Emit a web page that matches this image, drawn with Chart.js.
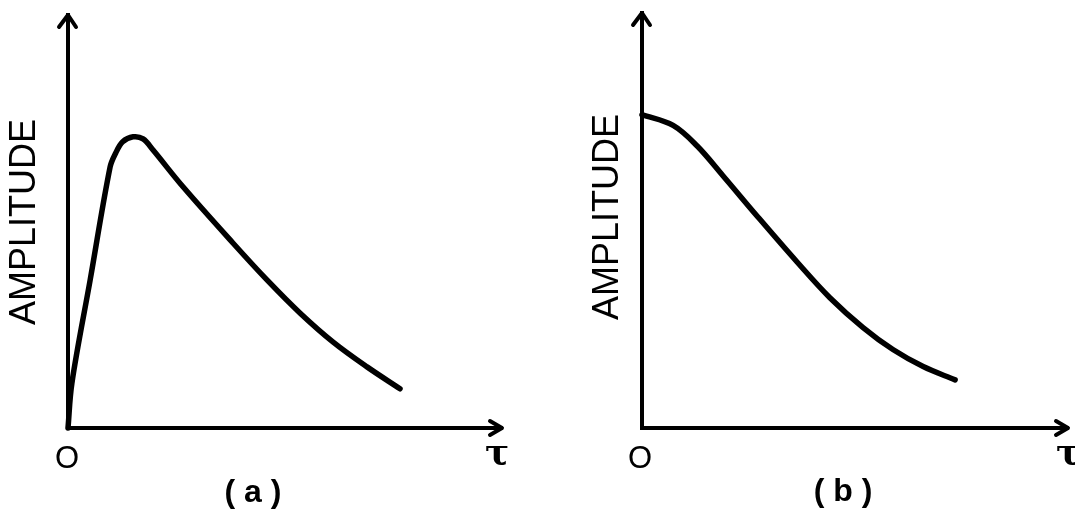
<!DOCTYPE html>
<html>
<head>
<meta charset="utf-8">
<script src="https://cdn.jsdelivr.net/npm/chart.js@4/dist/chart.umd.min.js"></script>
<style>
  body { margin: 0; background: #fff; }
  canvas { position: absolute; top: 0; }
</style>
</head>
<body>
<canvas id="grafico-a" width="537" height="512" style="left:0"></canvas>
<canvas id="grafico-b" width="538" height="512" style="left:537px"></canvas>
<script>
// Curva (a): sube casi vertical desde el origen, pico y luego decae
const tauA = [0, 0.09, 0.51, 0.97, 1.10, 1.26, 1.50, 1.73, 1.96, 2.65, 3.80, 4.59, 5.35, 6.11, 6.89, 7.65];
const ampA = [0, 1.09, 3.58, 6.32, 6.66, 6.93, 7.05, 7.00, 6.73, 5.84, 4.48, 3.58, 2.78, 2.08, 1.48, 0.95];

// Curva (b): empieza en su máximo y cae suavemente
const tauB = [0, 0.73, 1.29, 1.90, 2.70, 3.64, 4.41, 5.19, 5.89, 6.60, 7.35];
const ampB = [7.55, 7.29, 6.80, 6.08, 5.11, 4.00, 3.14, 2.42, 1.89, 1.48, 1.16];

const tituloEje = 'AMPLITUDE';
const etiquetaOrigen = 'O';
const etiquetaTau = 'τ';

// Dibuja las flechas de los ejes y los textos de cada panel
const flechasYTextos = {
    id: 'flechasYTextos',
    afterDraw(chart, args, opts) {
        const { ctx, chartArea: a } = chart;
        ctx.save();
        ctx.strokeStyle = '#000';
        ctx.lineWidth = 4;
        ctx.lineCap = 'round';
        ctx.lineJoin = 'round';

        // flecha del eje vertical
        ctx.beginPath();
        ctx.moveTo(a.left - 9, a.top + 12);
        ctx.lineTo(a.left, a.top);
        ctx.lineTo(a.left + 8, a.top + 12);
        ctx.stroke();

        // flecha del eje horizontal
        ctx.beginPath();
        ctx.moveTo(a.right - 12, a.bottom - 7);
        ctx.lineTo(a.right, a.bottom);
        ctx.lineTo(a.right - 12, a.bottom + 7);
        ctx.stroke();

        ctx.fillStyle = '#000';
        ctx.textAlign = 'center';
        ctx.textBaseline = 'middle';

        ctx.font = '31px "Liberation Sans"';
        ctx.fillText(etiquetaOrigen, opts.origen[0], opts.origen[1]);

        ctx.font = 'bold 36px "DejaVu Serif"';
        ctx.fillText(etiquetaTau, opts.tau[0], opts.tau[1]);

        ctx.font = 'bold 32px "Liberation Sans"';
        ctx.fillText(opts.letra, opts.letraPos[0], opts.letraPos[1]);

        ctx.translate(opts.titulo[0], opts.titulo[1]);
        ctx.rotate(-Math.PI / 2);
        ctx.font = '36px "Liberation Sans"';
        ctx.fillText(tituloEje, 0, 0);
        ctx.restore();
    }
};

function crearGrafico(idCanvas, xs, ys, padding, textos) {
    const ctx = document.getElementById(idCanvas).getContext('2d');
    return new Chart(ctx, {
        type: 'scatter',
        data: {
            datasets: [{
                data: xs.map((x, i) => ({ x: x, y: ys[i] })),
                showLine: true,
                borderColor: '#000',
                borderWidth: 5.5,
                borderCapStyle: 'round',
                pointRadius: 0,
                tension: 0.35,
                clip: false
            }]
        },
        options: {
            responsive: false,
            animation: false,
            layout: { padding: padding },
            plugins: {
                legend: { display: false },
                tooltip: { enabled: false },
                flechasYTextos: textos
            },
            scales: {
                x: {
                    min: 0, max: 10,
                    ticks: { display: false },
                    grid: { display: false, drawTicks: false },
                    border: { display: true, color: '#000', width: 4 }
                },
                y: {
                    min: 0, max: 10,
                    ticks: { display: false },
                    grid: { display: false, drawTicks: false },
                    border: { display: true, color: '#000', width: 4 }
                }
            }
        },
        plugins: [flechasYTextos]
    });
}

crearGrafico('grafico-a', tauA, ampA,
    { left: 68, right: 35, top: 15, bottom: 84 },
    { origen: [67, 459], tau: [497, 455], letra: '( a )', letraPos: [253, 493], titulo: [25, 222] });

crearGrafico('grafico-b', tauB, ampB,
    { left: 105, right: 7, top: 13, bottom: 84 },
    { origen: [103, 459], tau: [531, 455], letra: '( b )', letraPos: [306, 492], titulo: [71, 217] });
</script>
</body>
</html>
